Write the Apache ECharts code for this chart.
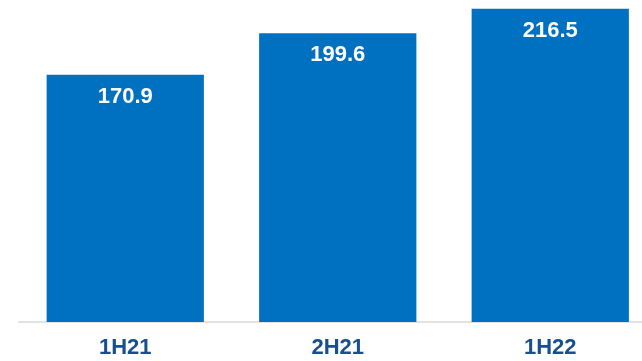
<!DOCTYPE html>
<html><head><meta charset="utf-8">
<script src="https://cdn.jsdelivr.net/npm/echarts@6/dist/echarts.min.js"></script>
<style>html,body{margin:0;padding:0;background:#fff;overflow:hidden;width:642px;height:361px}#c{width:660px;height:361px}</style>
</head><body><div id="c"></div>
<script>
const categories = ['1H21', '2H21', '1H22'];
const values = [170.9, 199.6, 216.5];

const chart = echarts.init(document.getElementById('c'), null, {renderer: 'canvas'});
chart.setOption({
  animation: false,
  grid: {left: 19, right: 3.5, top: 0, bottom: 39},
  xAxis: {
    type: 'category',
    data: categories,
    axisLine: {lineStyle: {color: '#e3e3e3', width: 2}},
    axisTick: {show: false},
    axisLabel: {color: '#174f8f', fontSize: 22, lineHeight: 22, fontWeight: 'bold', fontFamily: 'Liberation Sans, Arial, sans-serif', margin: 15}
  },
  yAxis: {type: 'value', min: 0, max: 222.5, show: false, splitLine: {show: false}},
  series: [{
    type: 'bar',
    data: values,
    barWidth: '74%',
    itemStyle: {color: '#0070c0'},
    label: {
      show: true, position: 'insideTop', distance: 11,
      color: '#ffffff', fontSize: 22, lineHeight: 22, fontWeight: 'bold',
      fontFamily: 'Liberation Sans, Arial, sans-serif',
      formatter: p => p.value.toFixed(1)
    }
  }]
});
</script></body></html>
